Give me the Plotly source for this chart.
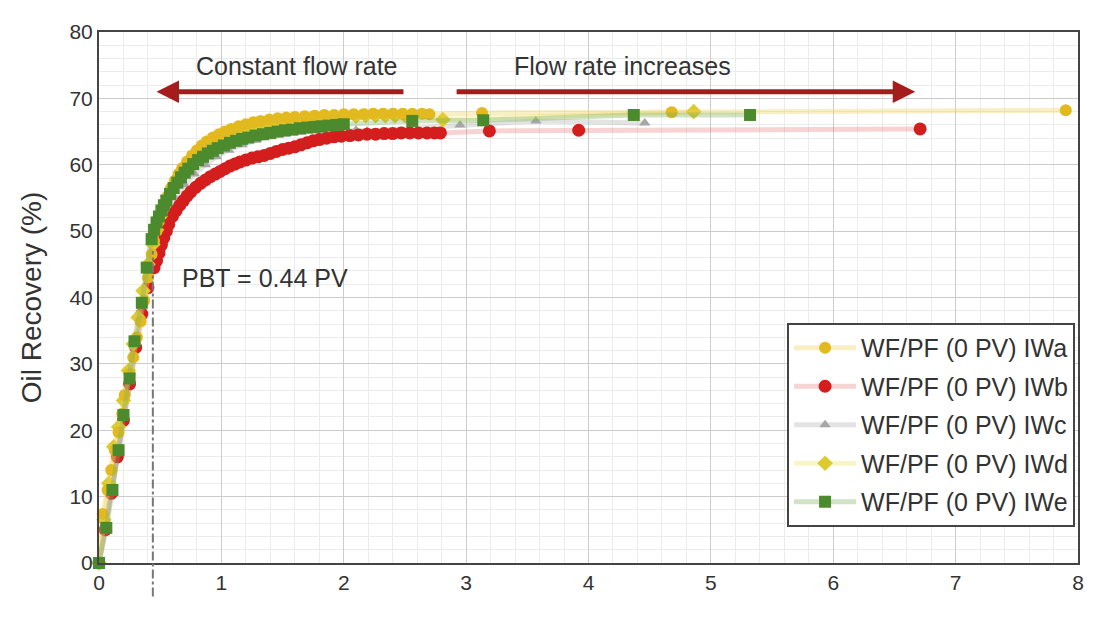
import plotly.graph_objects as go

# ---------------- data ----------------
iwa_x = [0, 0.03, 0.07, 0.10, 0.13, 0.16, 0.19, 0.21, 0.25, 0.28, 0.31, 0.34, 0.37, 0.40, 0.43,
         0.45, 0.47, 0.49, 0.51, 0.53, 0.56, 0.59, 0.62, 0.65, 0.68, 0.72, 0.76, 0.80, 0.84, 0.88,
         0.93, 0.98, 1.03, 1.08, 1.14, 1.20, 1.26, 1.32, 1.39, 1.46, 1.53, 1.60, 1.68, 1.76, 1.84,
         1.92, 2.00, 2.08, 2.16, 2.24, 2.32, 2.40, 2.48, 2.56, 2.64, 2.70, 3.13, 4.68, 7.90]
iwa_y = [0, 7.4, 11, 14, 17, 19.7, 22.5, 25.3, 28.5, 31, 34, 36.4, 39.5, 43, 46.5,
         48.5, 50, 51.5, 52.7, 53.8, 55.2, 56.5, 57.6, 58.6, 59.5, 60.5, 61.4, 62.2, 62.9, 63.5,
         64.1, 64.6, 65.0, 65.4, 65.8, 66.1, 66.4, 66.6, 66.8, 67.0, 67.1, 67.2, 67.3, 67.4, 67.5,
         67.5, 67.6, 67.6, 67.6, 67.7, 67.7, 67.7, 67.7, 67.7, 67.7, 67.6, 67.8, 67.9, 68.2]

iwb_x = [0, 0.05, 0.10, 0.15, 0.20, 0.25, 0.30, 0.35, 0.40, 0.45,
         0.47, 0.49, 0.51, 0.53, 0.55, 0.57, 0.60, 0.63, 0.66, 0.69, 0.72, 0.75, 0.79, 0.83, 0.87,
         0.91, 0.95, 0.99, 1.03, 1.07, 1.11, 1.15, 1.20, 1.25, 1.30, 1.35, 1.40, 1.45, 1.50, 1.55,
         1.60, 1.65, 1.70, 1.75, 1.80, 1.86, 1.92, 1.98, 2.05, 2.12, 2.19, 2.26, 2.33, 2.40, 2.47,
         2.54, 2.61, 2.68, 2.74, 2.79, 3.19, 3.92, 6.71]
iwb_y = [0, 5, 10.5, 16, 21.5, 27, 32.5, 37.5, 41.5, 44.5,
         45.5, 46.7, 47.9, 49, 50, 51, 52.2, 53.1, 53.9, 54.6, 55.3, 55.9, 56.6, 57.2, 57.7,
         58.2, 58.6, 59.0, 59.4, 59.8, 60.1, 60.4, 60.7, 61.0, 61.2, 61.4, 61.7, 62.0, 62.3, 62.5,
         62.7, 63.0, 63.3, 63.6, 63.8, 64.0, 64.2, 64.3, 64.4, 64.5, 64.6, 64.6, 64.7, 64.7, 64.8,
         64.8, 64.8, 64.8, 64.8, 64.8, 65.1, 65.2, 65.4]

iwc_x = [0, 0.05, 0.10, 0.15, 0.20, 0.25, 0.30, 0.35, 0.40, 0.45, 0.50, 0.56, 0.62, 0.70, 0.78,
         0.87, 0.96, 1.06, 1.17, 1.28, 1.40, 1.52, 1.65, 1.80, 1.95, 2.10, 2.19, 2.95, 3.57, 4.46]
iwc_y = [0, 5, 10.5, 16, 21.5, 27, 32.5, 38, 43, 47.5, 50.5, 53, 55, 57, 58.6,
         60, 61.2, 62.2, 63, 63.7, 64.2, 64.6, 64.9, 65.1, 65.2, 65.2, 65.1, 66.0, 66.6, 66.3]

iwd_x = [0, 0.04, 0.08, 0.12, 0.16, 0.20, 0.24, 0.28, 0.32, 0.36, 0.40, 0.44,
         0.47, 0.50, 0.53, 0.56, 0.60, 0.64, 0.68, 0.72, 0.77, 0.82, 0.87, 0.92, 0.98, 1.04,
         1.10, 1.17, 1.24, 1.31, 1.38, 1.46, 1.54, 1.62, 1.70, 1.78, 1.86, 1.94, 2.02, 2.10,
         2.18, 2.26, 2.34, 2.42, 2.50, 2.81, 4.86]
iwd_y = [0, 6.5, 12, 17.5, 20.5, 24.5, 29, 33, 37, 41, 45, 48,
         50.2, 52.2, 53.8, 55.2, 56.7, 58, 59.1, 60.1, 61.1, 62, 62.7, 63.3, 63.9, 64.4,
         64.9, 65.3, 65.7, 66.0, 66.2, 66.5, 66.7, 66.9, 67.0, 67.1, 67.2, 67.2, 67.3, 67.3,
         67.4, 67.4, 67.4, 67.4, 67.4, 66.8, 68.0]

iwe_x = [0, 0.06, 0.11, 0.16, 0.20, 0.25, 0.29, 0.35, 0.39, 0.43,
         0.45, 0.47, 0.49, 0.51, 0.53, 0.55, 0.58, 0.61, 0.64, 0.67, 0.70, 0.73, 0.77, 0.81, 0.85,
         0.89, 0.93, 0.97, 1.02, 1.07, 1.12, 1.17, 1.22, 1.28, 1.34, 1.40, 1.46, 1.52, 1.58, 1.64,
         1.70, 1.76, 1.82, 1.88, 1.94, 2.00, 2.56, 3.14, 4.37, 5.32]
iwe_y = [0, 5.3, 11, 17, 22.3, 27.8, 33.4, 39.2, 44.5, 48.8,
         50.2, 51.3, 52.2, 53.1, 53.9, 54.6, 55.6, 56.5, 57.3, 58.1, 58.8, 59.4, 60.1, 60.7, 61.2,
         61.7, 62.1, 62.5, 62.9, 63.3, 63.6, 63.9, 64.1, 64.4, 64.6, 64.8, 65.0, 65.2, 65.3, 65.5,
         65.6, 65.7, 65.8, 65.9, 66.0, 66.1, 66.6, 66.7, 67.5, 67.5]

series_names = ["WF/PF (0 PV) IWa", "WF/PF (0 PV) IWb", "WF/PF (0 PV) IWc",
                "WF/PF (0 PV) IWd", "WF/PF (0 PV) IWe"]

x_ticks = [0, 1, 2, 3, 4, 5, 6, 7, 8]
y_ticks = [0, 10, 20, 30, 40, 50, 60, 70, 80]

pbt_value = 0.44
ann_const = "Constant flow rate"
ann_incr = "Flow rate increases"
ann_pbt = "PBT = 0.44 PV"
y_title = "Oil Recovery (%)"

# ---------------- figure ----------------
FONT = "Liberation Sans, Arial, sans-serif"
fig = go.Figure()

styles = {
    "IWa": dict(color="#E2B91F", line="rgba(240,205,90,0.35)", symbol="circle", size=12),
    "IWb": dict(color="#D41E1E", line="rgba(232,110,110,0.30)", symbol="circle", size=13),
    "IWc": dict(color="#A6A6A6", line="rgba(175,175,175,0.35)", symbol="triangle-up", size=10),
    "IWd": dict(color="#DCCB2E", line="rgba(235,225,100,0.35)", symbol="diamond", size=12),
    "IWe": dict(color="#4C8A2E", line="rgba(120,175,95,0.35)", symbol="square", size=12),
}

data = {
    "IWc": (iwc_x, iwc_y, series_names[2], 3),
    "IWb": (iwb_x, iwb_y, series_names[1], 2),
    "IWd": (iwd_x, iwd_y, series_names[3], 4),
    "IWa": (iwa_x, iwa_y, series_names[0], 1),
    "IWe": (iwe_x, iwe_y, series_names[4], 5),
}

for key, (xs, ys, nm, rank) in data.items():
    st = styles[key]
    fig.add_trace(go.Scatter(
        x=xs, y=ys, name=nm, mode="lines+markers", legendrank=rank, legendgroup=key,
        line=dict(color=st["line"], width=5),
        marker=dict(color=st["color"], symbol=st["symbol"], size=st["size"], line=dict(width=0)),
        cliponaxis=False,
    ))

# arrows
arrow_col = "#A51C1C"
fig.add_annotation(x=0.47, y=71, ax=2.5, ay=71, xref="x", yref="y", axref="x", ayref="y",
                   text="", showarrow=True, arrowhead=2, arrowsize=0.9, arrowwidth=5,
                   arrowcolor=arrow_col)
fig.add_annotation(x=6.67, y=71, ax=2.91, ay=71, xref="x", yref="y", axref="x", ayref="y",
                   text="", showarrow=True, arrowhead=2, arrowsize=0.9, arrowwidth=5,
                   arrowcolor=arrow_col)
fig.add_annotation(x=1.62, y=74.9, text=ann_const, showarrow=False,
                   font=dict(family=FONT, size=25, color="#333333"))
fig.add_annotation(x=4.28, y=74.9, text=ann_incr, showarrow=False,
                   font=dict(family=FONT, size=25, color="#333333"))
fig.add_annotation(x=0.66, y=42.9, text=ann_pbt, showarrow=False, xanchor="left",
                   font=dict(family=FONT, size=25, color="#333333"))

# PBT vertical dash-dot line
fig.add_shape(type="line", xref="x", yref="paper", x0=pbt_value, x1=pbt_value,
              y0=-0.063, y1=47 / 80, line=dict(color="#777777", width=2, dash="dashdot"))

# page body has an 8px margin, so the figure is sized/offset to compensate
fig.update_layout(
    width=1089, height=611,
    margin=dict(l=91, r=19, t=13, b=56),
    paper_bgcolor="white", plot_bgcolor="white",
    font=dict(family=FONT, color="#333333"),
    showlegend=True,
    legend=dict(x=0.997, y=0.452, xanchor="right", yanchor="top",
                bgcolor="white", bordercolor="#444444", borderwidth=2, tracegroupgap=3,
                font=dict(family=FONT, size=25, color="#333333"), itemwidth=62),
)
fig.update_xaxes(range=[0, 8], tickvals=x_ticks, ticktext=[str(v) for v in x_ticks],
                 showgrid=True, gridcolor="#cccccc", gridwidth=1,
                 minor=dict(dtick=0.2, showgrid=True, gridcolor="#ececec", gridwidth=1),
                 showline=True, linecolor="#444444", linewidth=2, mirror=True,
                 zeroline=False, ticks="", tickfont=dict(family=FONT, size=21, color="#333333"))
fig.update_yaxes(range=[0, 80], tickvals=y_ticks, ticktext=[str(v) for v in y_ticks],
                 showgrid=True, gridcolor="#cccccc", gridwidth=1,
                 minor=dict(dtick=2, showgrid=True, gridcolor="#ececec", gridwidth=1),
                 showline=True, linecolor="#444444", linewidth=2, mirror=True,
                 zeroline=False, ticks="", tickfont=dict(family=FONT, size=21, color="#333333"),
                 title=dict(text=y_title, font=dict(family=FONT, size=28, color="#333333"),
                            standoff=20))

fig.write_html("out.html")
